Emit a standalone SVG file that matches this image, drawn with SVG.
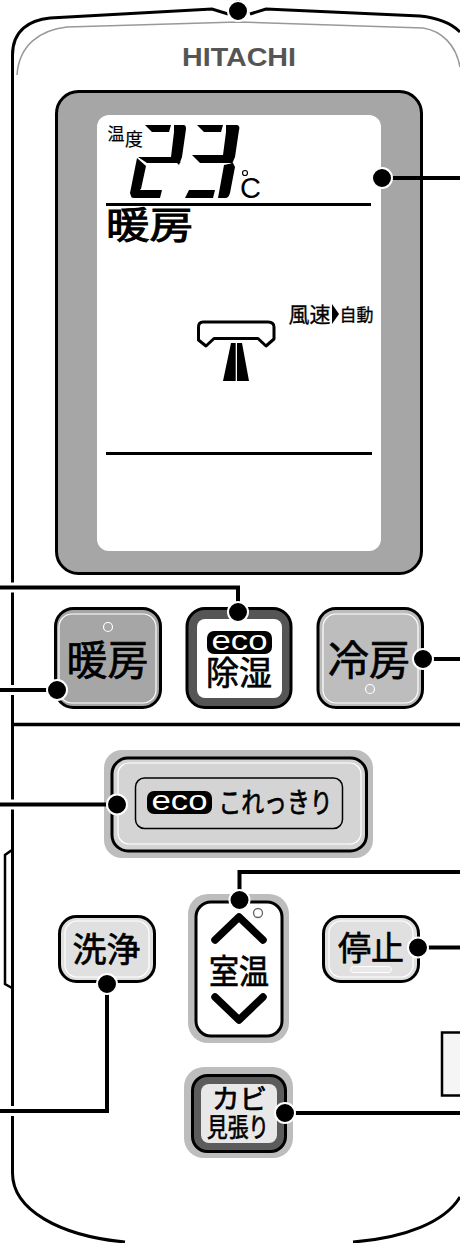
<svg xmlns="http://www.w3.org/2000/svg" width="460" height="1243" viewBox="0 0 460 1243">
<style>
text{font-family:"Noto Sans CJK JP","Noto Sans",sans-serif;fill:#000;text-anchor:middle;stroke:#000;stroke-width:.7}
.b{stroke:#000;stroke-width:3}
.h{fill:none;stroke:#fff;stroke-width:1.2}
.c{fill:none;stroke:#000;stroke-width:4}
.d{fill:#000;stroke:#fff;stroke-width:2}
.o{fill:none;stroke:#000;stroke-width:3}
.e{font-family:"Liberation Sans",sans-serif;fill:#fff;stroke:none}
</style>
<rect width="460" height="1243" fill="#fff"/>
<g id="body">
<path class="o" d="M460 32C452 24 440 18 420 16L266 9L250 14M228 14L212 9L50 18C30 20 12.500 30 12.500 55V1173C12.500 1210 60 1236 125 1242M353 1242C405 1238 445 1222 460 1197"/>
<path d="M17 75C19 45 40 30 67 27L238 22L423 28C442 31 456 45 460 67" fill="none" stroke="#999" stroke-width="1.500"/>
<path d="M12 725.500H460" stroke="#000" stroke-width="3.500" transform="translate(0 -1)"/>
<path d="M12 850L5 855V984L12 988" fill="none" stroke="#000" stroke-width="2.500"/>
<path d="M460 1032.500H442V1095.500H460" fill="#f5f5f5" stroke="#000" stroke-width="2.500"/>
<text x="239" y="66" style="font-family:'Liberation Sans',sans-serif;font-weight:700;fill:#555;stroke:none" font-size="25" textLength="114" lengthAdjust="spacingAndGlyphs">HITACHI</text>
</g>
<g id="display">
<rect x="56.500" y="91.500" width="365" height="482" rx="22" fill="#a6a6a6" class="b"/>
<rect x="97" y="115" width="284" height="436" rx="12" fill="#fff"/>
<text x="116" y="140" font-size="17" style="stroke-width:.2">温</text>
<text x="134" y="146" font-size="18" style="stroke-width:.2">度</text>
<path d="M145 125H171L169 132H152ZM174 125H183C186 125 186 127 186 129L182 157L179 165L171 157L174 132ZM138 157H173L181 163H147ZM137 158L146 166L141 189L131 196L130 193ZM137 190H162L160 198H134C132 198 131 197 131 196Z"/>
<path d="M197 125H223L221 132H204ZM226 125H236C239 125 240 127 239 130L235 157L232 164L223 155L226 132ZM192 155H223L233 163H200ZM235 167L230 193C229 196 228 198 225 198H218L224 165L233 163ZM189 190H215L213 198H185Z"/>
<circle cx="245" cy="173" r="2.500" fill="none" stroke="#000" stroke-width="1.200"/>
<text x="250.500" y="198" font-size="29" style="font-family:'Liberation Sans',sans-serif;stroke:none">C</text>
<rect x="106" y="203" width="265" height="3"/>
<text x="149.500" y="239" font-size="37" textLength="87" lengthAdjust="spacingAndGlyphs" style="stroke-width:1">暖房</text>
<text x="309.500" y="322" font-size="21" style="stroke-width:.3">風速</text>
<path d="M332 304L339 314L332 324Z"/>
<text x="356.500" y="321" font-size="17" style="stroke-width:.3">自動</text>
<path d="M203 322H268Q274 322 274 327V339L266 346L258 338.500H214L206 346L198.500 340V327Q198.500 322 203 322Z" fill="#fff" stroke="#000" stroke-width="3" stroke-linejoin="round"/>
<path d="M231 343H235.700V381H223ZM237 343H242L249 381H237Z"/>
<rect x="106" y="452" width="266" height="3"/>
</g>
<g id="btn-heat">
<rect x="55.500" y="608.500" width="105" height="99" rx="18" fill="#a6a6a6" class="b"/>
<rect x="59" y="614" width="97" height="89" rx="13" class="h"/>
<circle cx="108" cy="627" r="4.500" fill="none" stroke="#fff" stroke-width="1.200"/>
<text x="107.500" y="675" font-size="41">暖房</text>
</g>
<g id="btn-dry">
<rect x="187" y="608.500" width="104" height="99" rx="18" fill="#555" class="b"/>
<rect x="197" y="619" width="85" height="79" rx="8" fill="#fff"/>
<rect x="207" y="631" width="65" height="23" rx="7" fill="#000"/>
<text x="239.500" y="649.500" font-size="27" class="e" textLength="56" lengthAdjust="spacingAndGlyphs">eco</text>
<text x="239" y="684.500" font-size="33">除湿</text>
</g>
<g id="btn-cool">
<rect x="318" y="608.500" width="104.500" height="99" rx="18" fill="#bdbdbd" class="b"/>
<rect x="323" y="614" width="95" height="89" rx="13" class="h"/>
<circle cx="370" cy="689" r="4.500" fill="none" stroke="#fff" stroke-width="1.200"/>
<text x="369" y="675" font-size="41">冷房</text>
</g>
<g id="btn-eco">
<rect x="104" y="750" width="269" height="108" rx="18" fill="#bdbdbd"/>
<rect x="112" y="758" width="254.500" height="93" rx="16" fill="#d4d4d4" class="b"/>
<rect x="118" y="763" width="243" height="81" rx="11" class="h"/>
<rect x="135.500" y="778" width="207" height="50.500" rx="9" fill="none" stroke="#000" stroke-width="1.500"/>
<rect x="147" y="791" width="65" height="23" rx="7" fill="#000"/>
<text x="179.500" y="810" font-size="27" class="e" textLength="56" lengthAdjust="spacingAndGlyphs">eco</text>
<text x="275.500" y="813" font-size="28" textLength="114" lengthAdjust="spacingAndGlyphs">これっきり</text>
</g>
<g id="btn-wash">
<rect x="59.500" y="916.500" width="95" height="65" rx="17" fill="#e0e0e0" class="b"/>
<rect x="65" y="921" width="84" height="56" rx="12" class="h"/>
<text x="106.500" y="962" font-size="34">洗浄</text>
</g>
<g id="btn-room">
<rect x="188" y="894" width="101" height="149" rx="20" fill="#bdbdbd"/>
<rect x="196" y="902" width="86" height="134" rx="15" fill="#fff" class="b"/>
<circle cx="258" cy="913" r="4.500" fill="#fff" stroke="#666" stroke-width="1.300"/>
<path d="M215 940L239 917L263 940M215 997L239 1020L263 997" fill="none" stroke="#000" stroke-width="7.500" stroke-linecap="round" stroke-linejoin="round"/>
<text x="239" y="984" font-size="34" textLength="60" lengthAdjust="spacingAndGlyphs">室温</text>
</g>
<g id="btn-stop">
<rect x="323.500" y="916.500" width="95" height="65" rx="17" fill="#e0e0e0" class="b"/>
<rect x="329" y="921" width="84" height="56" rx="12" class="h"/>
<rect x="350.500" y="966.500" width="41" height="6" rx="3" fill="#e8e8e8" stroke="#fff"/>
<text x="371" y="960" font-size="33">停止</text>
</g>
<g id="btn-mold">
<rect x="184" y="1067" width="109" height="91" rx="20" fill="#bdbdbd"/>
<rect x="192.500" y="1075.500" width="93" height="76" rx="15" fill="#5c5c5c" class="b"/>
<rect x="201" y="1084" width="76" height="59" rx="8" fill="#e8e8e8"/>
<text x="239.500" y="1109" font-size="27" textLength="55" lengthAdjust="spacingAndGlyphs">カビ</text>
<text x="238" y="1137" font-size="26" textLength="62" lengthAdjust="spacingAndGlyphs">見張り</text>
</g>
<g id="connectors">
<path fill="none" stroke="#fff" stroke-width="10" d="M0 587.500H30M0 690H30M0 804.500H30M0 1111H30"/>
<path class="c" d="M238 0V12M382 178H460M0 587.500H238V612M0 690H57M423 659H460M0 804.500H117M460 872H239.500V900M418 947.500H460M107 984V1111H0M285 1113H460"/>
<circle class="d" cx="238" cy="11" r="10"/>
<circle class="d" cx="382" cy="178" r="10"/>
<circle class="d" cx="238" cy="612" r="10"/>
<circle class="d" cx="57" cy="690" r="10"/>
<circle class="d" cx="423" cy="659" r="10"/>
<circle class="d" cx="117" cy="804.500" r="10"/>
<circle class="d" cx="239.500" cy="900" r="10"/>
<circle class="d" cx="418" cy="947.500" r="10"/>
<circle class="d" cx="107" cy="984" r="10"/>
<circle class="d" cx="285" cy="1113" r="10"/>
</g>
</svg>
